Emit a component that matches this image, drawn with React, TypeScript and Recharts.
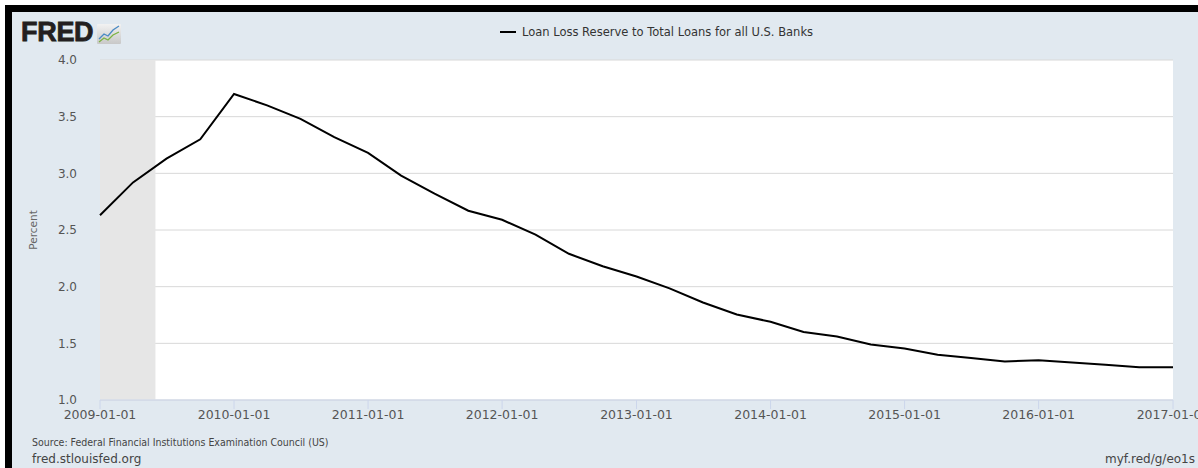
import React from "react";
import {
  LineChart,
  Line,
  XAxis,
  YAxis,
  CartesianGrid,
  ReferenceArea,
} from "recharts";

// quarterly observations, FRED series
const DATES = [
  "2009-01-01", "2009-04-01", "2009-07-01", "2009-10-01",
  "2010-01-01", "2010-04-01", "2010-07-01", "2010-10-01",
  "2011-01-01", "2011-04-01", "2011-07-01", "2011-10-01",
  "2012-01-01", "2012-04-01", "2012-07-01", "2012-10-01",
  "2013-01-01", "2013-04-01", "2013-07-01", "2013-10-01",
  "2014-01-01", "2014-04-01", "2014-07-01", "2014-10-01",
  "2015-01-01", "2015-04-01", "2015-07-01", "2015-10-01",
  "2016-01-01", "2016-04-01", "2016-07-01", "2016-10-01",
  "2017-01-01",
];

const RESERVE_PCT = [
  2.63, 2.92, 3.13, 3.3,
  3.7, 3.6, 3.48, 3.32,
  3.18, 2.98, 2.82, 2.67,
  2.59, 2.46, 2.29, 2.18,
  2.09, 1.985, 1.86, 1.755,
  1.69, 1.6, 1.56, 1.49,
  1.455, 1.4, 1.37, 1.34,
  1.35, 1.33, 1.31, 1.29,
  1.29,
];

const X_TICKS = [
  "2009-01-01", "2010-01-01", "2011-01-01", "2012-01-01", "2013-01-01",
  "2014-01-01", "2015-01-01", "2016-01-01", "2017-01-01",
];
const Y_TICKS = [1.0, 1.5, 2.0, 2.5, 3.0, 3.5, 4.0];

const RECESSION = ["2009-01-01", "2009-06-01"];

const SERIES_NAME = "Loan Loss Reserve to Total Loans for all U.S. Banks";

const ts = (d: string) => Date.parse(d + "T00:00:00Z");
const fmtDate = (v: number) => new Date(v).toISOString().slice(0, 10);

const data = DATES.map((d, i) => ({ t: ts(d), value: RESERVE_PCT[i] }));

const TICK_FONT = "'DejaVu Sans', sans-serif";

function LegendBox() {
  return (
    <div
      style={{
        position: "absolute",
        left: 500,
        top: 24,
        display: "flex",
        alignItems: "center",
        fontFamily: TICK_FONT,
        fontSize: 11.5,
        color: "#333",
        whiteSpace: "nowrap",
        lineHeight: "16px",
      }}
    >
      <svg width={16} height={4} style={{ marginRight: 6 }}>
        <line x1={0} y1={2} x2={16} y2={2} stroke="#000" strokeWidth={2} />
      </svg>
      {SERIES_NAME}
    </div>
  );
}

function FredLogo() {
  return (
    <div style={{ position: "absolute", left: 21, top: 18, display: "flex", alignItems: "flex-end" }}>
      <span
        style={{
          fontFamily: "'Liberation Sans', Arial, sans-serif",
          fontWeight: 900,
          fontSize: 27,
          letterSpacing: -0.3,
          color: "#231f20",
          lineHeight: "28px",
          WebkitTextStroke: "0.8px #231f20",
        }}
      >
        FRED
      </span>
      <svg width={24} height={22} style={{ marginLeft: 4, marginBottom: 2 }}>
        <defs>
          <linearGradient id="fg" x1="0" y1="0" x2="0" y2="1">
            <stop offset="0" stopColor="#f2f2f2" />
            <stop offset="1" stopColor="#c8c8c8" />
          </linearGradient>
        </defs>
        <rect x={0} y={2} width={24} height={20} fill="url(#fg)" rx={1} />
        <polyline points="2,17 7,12 11,14 16,8 22,4" fill="none" stroke="#4a8ac4" strokeWidth={1.3} />
        <polyline points="2,20 7,16 11,18 16,13 22,10" fill="none" stroke="#7cb342" strokeWidth={1.3} />
      </svg>
    </div>
  );
}

export default function App() {
  return (
    <div
      style={{
        position: "fixed",
        left: 0,
        top: 0,
        width: 1198,
        height: 468,
        background: "#fff",
        overflow: "hidden",
      }}
    >
      <div
        style={{
          position: "absolute",
          left: 5,
          top: 5,
          width: 1193,
          height: 463,
          boxSizing: "border-box",
          background: "#e1e9f0",
          borderTop: "7px solid #000",
          borderLeft: "7px solid #000",
        }}
      />
      <FredLogo />
      <LegendBox />
      <div style={{ position: "absolute", left: 0, top: 0 }}>
        <LineChart
          width={1198}
          height={468}
          data={data}
          margin={{ top: 60, right: 25, left: 0, bottom: 38 }}
        >
          <CartesianGrid
            horizontal
            vertical={false}
            stroke="#d8d8d8"
            fill="#fff"
            fillOpacity={1}
          />
          <ReferenceArea
            x1={ts(RECESSION[0])}
            x2={ts(RECESSION[1])}
            fill="#e6e6e6"
            fillOpacity={1}
            stroke="none"
            ifOverflow="hidden"
          />
          <XAxis
            type="number"
            dataKey="t"
            domain={[ts(X_TICKS[0]), ts(X_TICKS[X_TICKS.length - 1])]}
            ticks={X_TICKS.map(ts)}
            interval={0}
            tickFormatter={fmtDate}
            height={30}
            tickSize={9}
            tickMargin={1}
            axisLine={{ stroke: "#ccd6eb" }}
            tickLine={{ stroke: "#ccd6eb" }}
            tick={{ fill: "#555", fontSize: 12.5, fontFamily: TICK_FONT }}
          />
          <YAxis
            type="number"
            domain={[1, 4]}
            ticks={Y_TICKS}
            interval={0}
            tickFormatter={(v: number) => v.toFixed(1)}
            width={100}
            tickSize={6}
            tickMargin={17}
            axisLine={false}
            tickLine={false}
            tick={{ fill: "#555", fontSize: 12, fontFamily: TICK_FONT }}
            label={{
              value: "Percent",
              angle: -90,
              position: "insideLeft",
              offset: 33,
              style: { fill: "#666", fontSize: 10.5, fontFamily: TICK_FONT, textAnchor: "middle" },
            }}
          />
          <Line
            type="linear"
            dataKey="value"
            name={SERIES_NAME}
            stroke="#000"
            strokeWidth={2}
            dot={false}
            isAnimationActive={false}
          />
        </LineChart>
      </div>
      <div
        style={{
          position: "absolute",
          left: 32,
          top: 436,
          fontFamily: "'DejaVu Sans Condensed', 'DejaVu Sans', sans-serif",
          fontStretch: "condensed",
          fontSize: 10.5,
          color: "#444",
          whiteSpace: "nowrap",
        }}
      >
        Source: Federal Financial Institutions Examination Council (US)
      </div>
      <div
        style={{
          position: "absolute",
          left: 32,
          top: 452,
          fontFamily: TICK_FONT,
          fontSize: 12,
          color: "#444",
          whiteSpace: "nowrap",
        }}
      >
        fred.stlouisfed.org
      </div>
      <div
        style={{
          position: "absolute",
          right: 3,
          top: 452,
          fontFamily: TICK_FONT,
          fontSize: 12,
          color: "#444",
          whiteSpace: "nowrap",
        }}
      >
        myf.red/g/eo1s
      </div>
    </div>
  );
}
